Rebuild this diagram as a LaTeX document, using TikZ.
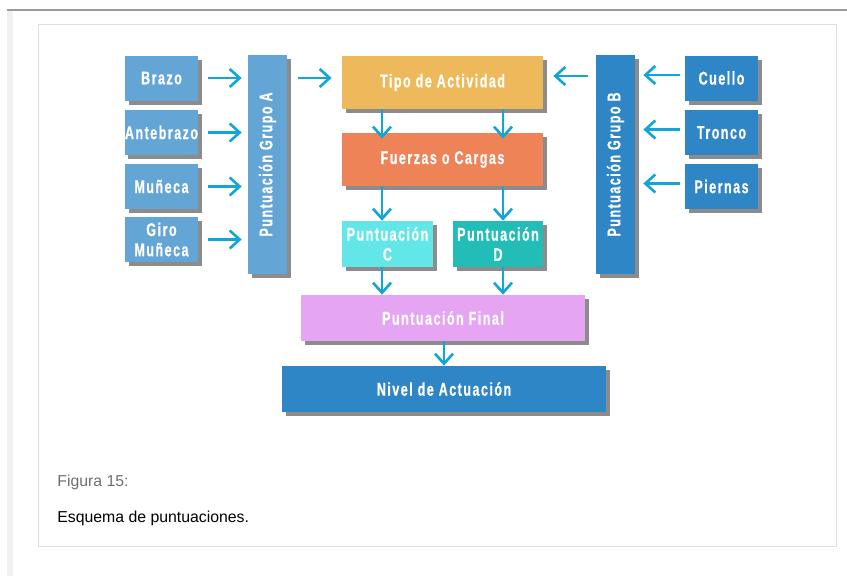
\documentclass[tikz,border=0pt]{standalone}
\usepackage{fontspec}
\setmainfont{Liberation Sans}
\newfontfamily\boxfont[FakeStretch=0.68,LetterSpace=8,FakeBold=0.6]{Liberation Sans}
\usepackage{tikz}
\usetikzlibrary{arrows.meta,positioning,shadows,calc}
\usepackage{xcolor}
\definecolor{armblue}{RGB}{99,165,213}
\definecolor{trunkblue}{RGB}{47,134,198}
\definecolor{actyellow}{RGB}{237,185,90}
\definecolor{forceorange}{RGB}{238,131,88}
\definecolor{scorec}{RGB}{98,230,232}
\definecolor{scored}{RGB}{34,189,183}
\definecolor{finalpink}{RGB}{230,165,242}
\definecolor{flowcyan}{RGB}{18,166,216}
\definecolor{captiongray}{RGB}{110,110,110}
\def\px{0.02cm}

\begin{document}
\begin{tikzpicture}[x=0.02cm,y=-0.02cm,
    scorebox/.style={text=white,align=center,inner sep=0pt,
      font=\boxfont\bfseries\fontsize{10.5}{12.5}\selectfont,
      drop shadow={shadow xshift=0.07cm,shadow yshift=-0.08cm,fill=black,opacity=0.45}},
    part/.style={scorebox,minimum width=73*\px,minimum height=45*\px},
    groupbar/.style={scorebox,minimum width=39*\px,minimum height=219*\px},
    flow/.style={draw=flowcyan,line width=1.5pt,
      -{Straight Barb[length=2mm,width=3.6mm,line width=1.5pt]}}]
  \useasboundingbox (0,0) rectangle (847,576);
  % Frame
  \fill[gray!12] (7,10) rectangle (13,576);
  \draw[gray!80,line width=1.2pt] (7,10) -- (847,10);
  \draw[gray!25] (38,24) rectangle (836,546);
  % Group A parts
  \node[part,fill=armblue] (brazo) at (161.5,78) {Brazo};
  \node[part,fill=armblue] (antebrazo) at (161.5,132.5) {Antebrazo};
  \node[part,fill=armblue] (muneca) at (161.5,186.5) {Muñeca};
  \node[part,fill=armblue] (giro) at (161.5,239.5) {Giro\\[-1pt]Muñeca};
  \node[groupbar,fill=armblue] (grupoA) at (267.5,164.5) {\rotatebox{90}{Puntuación Grupo A}};
  % Group B parts
  \node[part,fill=trunkblue] (cuello) at (721.5,78) {Cuello};
  \node[part,fill=trunkblue] (tronco) at (721.5,132.5) {Tronco};
  \node[part,fill=trunkblue] (piernas) at (721.5,186.5) {Piernas};
  \node[groupbar,fill=trunkblue] (grupoB) at (615.5,164.5) {\rotatebox{90}{Puntuación Grupo B}};
  % Centre column
  \node[scorebox,fill=actyellow,minimum width=201*\px,minimum height=53*\px]
    (tipo) at (442.5,82.5) {Tipo de Actividad};
  \node[scorebox,fill=forceorange,minimum width=201*\px,minimum height=53*\px]
    (fuerzas) at (442.5,159.5) {Fuerzas o Cargas};
  \node[scorebox,fill=scorec,minimum width=91*\px,minimum height=46*\px]
    (puntC) at (387.5,244) {Puntuación\\[-1pt]C};
  \node[scorebox,fill=scored,minimum width=90*\px,minimum height=46*\px]
    (puntD) at (498,244) {Puntuación\\[-1pt]D};
  \node[scorebox,fill=finalpink,minimum width=284*\px,minimum height=46*\px]
    (final) at (443,318) {Puntuación Final};
  \node[scorebox,fill=trunkblue,minimum width=324*\px,minimum height=46*\px]
    (nivel) at (444,389) {Nivel de Actuación};
  % Arrows
  \coordinate (colC) at (382,0);
  \coordinate (colD) at (503,0);
  \foreach \n in {brazo,antebrazo,muneca,giro}
    \draw[flow,shorten <=10*\px,shorten >=6*\px] (\n.east) -- (\n -| grupoA.west);
  \foreach \n in {cuello,tronco,piernas}
    \draw[flow,shorten <=5*\px,shorten >=8*\px] ([yshift=0.06cm]\n.west) -- ([yshift=0.06cm]\n -| grupoB.east);
  \draw[flow,shorten <=11*\px,shorten >=10*\px] (grupoA.east |- brazo) -- (tipo.west |- brazo);
  \draw[flow,shorten <=8*\px,shorten >=10*\px] ([yshift=0.04cm]grupoB.west |- brazo) -- ([yshift=0.04cm]tipo.east |- brazo);
  \foreach \c in {colC,colD} {
    \draw[flow,shorten >=-6*\px] (tipo.south -| \c) -- (fuerzas.north -| \c);
    \draw[flow] (fuerzas.south -| \c) -- (puntC.north -| \c);
    \draw[flow] (puntC.south -| \c) -- (final.north -| \c);
  }
  \draw[flow] (final.south -| nivel) -- (nivel.north);
  % Caption
  \node[anchor=base west,inner sep=0pt,text=captiongray,font=\fontsize{9}{11}\selectfont]
    (figlabel) at (57,486) {Figura 15:};
  \node[anchor=base west,inner sep=0pt,font=\fontsize{9}{11}\selectfont]
    (figtitle) at (57,522) {Esquema de puntuaciones.};
\end{tikzpicture}
\end{document}
